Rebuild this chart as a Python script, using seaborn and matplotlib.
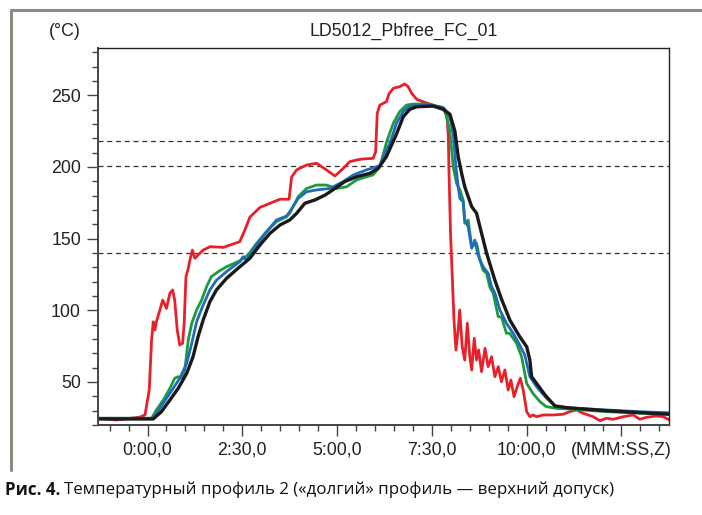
import numpy as np
import pandas as pd
import seaborn as sns
import matplotlib.pyplot as plt
from matplotlib.lines import Line2D
from matplotlib.ticker import MultipleLocator, FixedLocator, FixedFormatter

# time in seconds, temperature in deg C
red_t = [-78, -49, -12, -4, 2.7, 6.4, 9, 11.7, 14, 19.6, 24, 30, 35.4, 39.7, 43, 47, 51, 55.5, 58,
         60.8, 64.5, 67, 71, 75, 80, 88, 99, 120, 146, 154, 162, 178, 194, 209.5, 224, 228, 236,
         252, 267.5, 283, 296.5, 309.7, 320, 331, 341, 357, 361, 363.5, 367.7, 373, 378, 382, 389,
         399, 407, 412.5, 418, 426, 436, 447, 457, 468, 474, 476, 477, 479.5, 483, 485, 488, 491.6,
         494, 498, 502, 506, 510, 513, 517, 520.7, 524, 528.6, 534, 539, 544.4, 549.7, 555, 560,
         565.5, 570.7, 575, 580, 585, 590, 594.5, 600, 605, 610, 615.7, 626, 642, 658, 668, 679,
         689, 705, 716, 726, 737, 753, 768.5, 779, 790, 805.5, 816, 826]
red_T = [24.8, 23.5, 25.5, 27, 44.4, 79.3, 92, 86.3, 92, 100.2, 107.2, 101.4, 111.9, 114.2, 107.2,
         86.3, 75.8, 77, 91, 123.5, 129.3, 135, 142, 136.3, 138.6, 142, 144.4, 143.9, 147.9, 156,
         165, 171.8, 174.7, 177.5, 177.5, 193, 198, 201.4, 202.6, 198, 193.7, 199, 203.7, 204.9,
         205.6, 206, 210.6, 237.4, 243.2, 244.4, 245.5, 250.9, 254.9, 256, 257.9, 256, 251.4,
         247.2, 245.5, 243.9, 242.5, 240.9, 235, 221, 198, 153.7, 115, 93, 72.3, 86.3, 100.2,
         74.6, 65.3, 91, 67.6, 58.4, 80.5, 65.3, 72.3, 57.2, 73.5, 60.7, 67.6, 53.7, 60.7, 50.2,
         58.4, 44.4, 51.4, 39.8, 46.7, 52.6, 44.4, 29.3, 25.8, 27, 25.8, 27, 27, 27.5, 29.3, 30.5,
         28.2, 25.8, 23, 24.7, 24, 25.8, 27, 24, 25.4, 26.3, 25.8, 23.5]

green_t = [-78, 6.5, 14, 25, 35.4, 43, 48.6, 54, 59, 62, 64.5, 70, 77.7, 85.6, 93.5, 101, 112, 125,
           146, 159, 172.6, 188, 204, 220, 225, 238.5, 251.7, 267.5, 283, 299, 315, 331, 346.7,
           357, 367.7, 378, 389, 399, 410, 420, 441.6, 462.7, 470.6, 478.5, 483.7, 489, 494.3,
           499.5, 502, 507.4, 513, 520.7, 526, 531, 536.6, 541.8, 547, 555, 560, 568, 573, 584,
           592, 600, 610, 621, 631, 647, 665.6, 726, 779, 826]
green_T = [24.7, 24.7, 30.5, 37.4, 45.6, 52.6, 53.7, 52.6, 58.4, 70, 79.3, 91, 100.2, 107.2, 116.5,
           123.5, 127, 130.4, 134.5, 138.6, 146.7, 154.8, 161.8, 165.3, 167.7, 179.3, 185, 187.4,
           187.4, 185, 186.2, 191, 193.2, 194.5, 200.2, 217, 230.5, 238.6, 243.2, 243.9, 243.9,
           242, 239.7, 225, 200.2, 188.6, 184, 177, 160.7, 163, 144.4, 146.7, 135, 128, 125.8,
           116, 112, 95.5, 95.5, 84, 84, 77, 67.6, 49, 42, 36.3, 32.8, 31.6, 31.2, 29.3, 28.3, 27.5]

blue_t = [-78, 9, 19.6, 30, 40.7, 51, 62, 70, 77.7, 88, 98.7, 109, 125, 146, 151.5, 156.8, 172.6,
          188.4, 204, 220, 225, 238.5, 251.7, 267.5, 288.6, 309.7, 325.5, 346.7, 362.5, 367.7,
          378, 383.5, 394, 404.6, 415, 441.6, 468, 478.5, 484, 488, 491.6, 494.3, 499.5, 502,
          507.4, 513, 518, 523, 531, 539, 544.4, 549.7, 557.6, 568, 578.6, 589, 597, 605, 615.7,
          631.6, 647, 665.6, 726, 779, 826]
blue_T = [24.7, 24.7, 31.6, 38.6, 45.6, 52.6, 63, 77, 92, 103.7, 114.2, 121, 127, 134, 137.4, 135,
          145.6, 154.8, 163, 165.8, 168.8, 178.1, 182.7, 184, 185, 189.8, 194.4, 198, 200.2, 201,
          212, 216.5, 230.5, 238.6, 242.5, 243.2, 241.6, 235, 222, 200.2, 186.2, 178, 175.8, 163,
          158.3, 143.3, 149, 138.6, 130.4, 125.8, 116.5, 112, 100.2, 91, 84, 75.8, 68.8, 53.7,
          46.7, 38.6, 32.8, 32, 30.5, 29.3, 28.5]

black_t = [-78, 9, 22, 35.4, 48.6, 62, 72, 80, 88, 98.7, 109, 125, 146, 162, 178, 193.7, 209.5,
           225, 236, 249, 265, 281, 296.5, 312, 331, 352, 365, 378, 394, 404.6, 415, 426, 452,
           468, 478.5, 486.4, 491.6, 497, 502, 513, 520.7, 526, 536.6, 549.7, 560, 573.4, 589,
           600, 605, 607.8, 615.7, 629, 644.6, 665.6, 726, 779, 826]
black_T = [24.2, 24.2, 29.3, 37.4, 45.6, 56, 67.6, 81.6, 93.2, 106, 114.2, 122.3, 130.4, 136.3,
           145.6, 153.7, 159.5, 163, 167.7, 174.7, 177, 180.4, 185, 189.8, 193.2, 195.6, 199,
           207.2, 223, 235, 240.2, 242, 242.5, 240.2, 236.8, 225, 207.2, 195.6, 186.2, 172.3,
           167.7, 158.3, 139.8, 121, 108, 93.2, 81.6, 74.6, 65.3, 53.7, 49, 41, 33.3, 32, 30,
           28.6, 27.5]

limit_lines = [218, 201, 140]
x_ticks = [0, 150, 300, 450, 600, 750]
x_labels = ['0:00,0', '2:30,0', '5:00,0', '7:30,0', '10:00,0', '(MMM:SS,Z)']
y_ticks = [50, 100, 150, 200, 250]

sns.set_style('white')
plt.rcParams['font.family'] = ['Liberation Sans', 'DejaVu Sans']

fig = plt.figure(figsize=(7.02, 5.15), dpi=100)
ax = fig.add_axes([97.6 / 702, 1 - 425 / 515, 571.9 / 702, 377 / 515])

series = [(red_t, red_T, '#e8202a', 2.0), (green_t, green_T, '#1c9a3c', 2.0),
          (blue_t, blue_T, '#1f6cbd', 2.0), (black_t, black_T, '#1a1a1a', 2.4)]
for t, T, c, lw in series:
    df = pd.DataFrame({'t': t, 'T': T})
    sns.lineplot(data=df, x='t', y='T', color=c, lw=lw, sort=False, estimator=None, ax=ax,
                 solid_joinstyle='round', solid_capstyle='round')

for v in limit_lines:
    ax.axhline(v, color='#333333', lw=0.9, ls=(0, (4, 3)), zorder=1)

ax.set_xlim(-79, 826)
ax.set_ylim(20, 283)
ax.set_xlabel('')
ax.set_ylabel('')
ax.xaxis.set_major_locator(FixedLocator(x_ticks))
ax.xaxis.set_major_formatter(FixedFormatter(x_labels))
ax.xaxis.set_minor_locator(MultipleLocator(30))
ax.yaxis.set_major_locator(FixedLocator(y_ticks))
ax.yaxis.set_minor_locator(MultipleLocator(10))
ax.tick_params(which='major', direction='out', length=8, width=1, color='#444444',
               labelsize=12.8, labelcolor='#222222', pad=4)
ax.tick_params(which='minor', direction='out', length=4, width=1, color='#444444')
ax.tick_params(axis='x', which='both', bottom=True)
ax.tick_params(axis='y', which='both', left=True)
for s in ['left', 'bottom']:
    ax.spines[s].set_color('#444444')
    ax.spines[s].set_linewidth(1.4)
for s in ['top', 'right']:
    ax.spines[s].set_color('#222222')
    ax.spines[s].set_linewidth(1.0)

fig.text(404 / 702, 1 - 31 / 515, 'LD5012_Pbfree_FC_01', ha='center', va='center',
         fontsize=12.8, color='#222222')
fig.text(65 / 702, 1 - 31 / 515, '(°C)', ha='center', va='center', fontsize=12.8, color='#222222')

# grey frame around the chart
frame = '#8d8d7e'
fig.add_artist(Line2D([11 / 702, 11 / 702], [1 - 10 / 515, 1 - 470 / 515], color=frame, lw=2.2))
fig.add_artist(Line2D([11 / 702, 1.0], [1 - 10 / 515, 1 - 10 / 515], color=frame, lw=2.2))

cap1 = fig.text(5 / 702, 1 - 490 / 515, 'Рис. 4.', ha='left', va='center', fontsize=12.2,
                fontweight='bold', family='Open Sans', color='#111111')
fig.canvas.draw()
bb = cap1.get_window_extent()
fig.text((bb.x1 + 4) / 702, 1 - 490 / 515,
         'Температурный профиль 2 («долгий» профиль — верхний допуск)', ha='left', va='center',
         fontsize=12.2, family='Open Sans', color='#111111')

fig.savefig('out.png', dpi=100)
